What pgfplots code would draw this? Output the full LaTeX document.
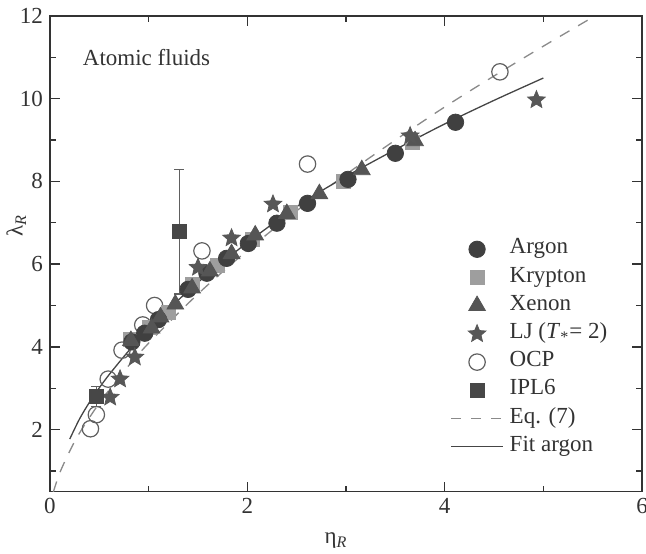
\documentclass[border=0pt]{standalone}
\usepackage{fontspec}
\setmainfont{Liberation Serif}
\usepackage{pgfplots}
\pgfplotsset{compat=1.18}
\usetikzlibrary{plotmarks}

\pgfdeclareplotmark{fstar}{%
 \pgfpathmoveto{\pgfpointpolar{90}{\pgfplotmarksize}}%
 \pgfpathlineto{\pgfpointpolar{126}{0.45\pgfplotmarksize}}%
 \pgfpathlineto{\pgfpointpolar{162}{\pgfplotmarksize}}%
 \pgfpathlineto{\pgfpointpolar{198}{0.45\pgfplotmarksize}}%
 \pgfpathlineto{\pgfpointpolar{234}{\pgfplotmarksize}}%
 \pgfpathlineto{\pgfpointpolar{270}{0.45\pgfplotmarksize}}%
 \pgfpathlineto{\pgfpointpolar{306}{\pgfplotmarksize}}%
 \pgfpathlineto{\pgfpointpolar{342}{0.45\pgfplotmarksize}}%
 \pgfpathlineto{\pgfpointpolar{18}{\pgfplotmarksize}}%
 \pgfpathlineto{\pgfpointpolar{54}{0.45\pgfplotmarksize}}%
 \pgfpathclose\pgfusepathqfillstroke}

\definecolor{cAr}{HTML}{404040}
\definecolor{cKr}{HTML}{9E9E9E}
\definecolor{cXe}{HTML}{555555}
\definecolor{cLJ}{HTML}{575757}
\definecolor{cOCP}{HTML}{606060}
\definecolor{cIPL}{HTML}{474747}
\definecolor{cEq}{HTML}{8A8A8A}
\definecolor{cFit}{HTML}{454545}
\definecolor{cAx}{HTML}{333333}

\begin{document}
\begin{tikzpicture}
\begin{axis}[
  name=ax,
  scale only axis, width=296pt, height=237.8pt,
  xmin=0, xmax=6, ymin=0.5, ymax=12,
  xtick={0,2,4,6}, ytick={2,4,6,8,10,12},
  minor xtick={1,3,5}, minor ytick={1,3,5,7,9,11},
  tick align=inside, major tick length=5pt, minor tick length=3pt,
  axis line style={line width=0.65pt, color=cAx},
  every tick/.style={line width=0.65pt, color=cAx},
  ticklabel style={font=\fontsize{11.5}{13}\selectfont, color=cAx},
  /pgf/number format/assume math mode=true,
  xlabel={η\textsubscript{\textit{R}}},
  ylabel={λ\textsubscript{\textit{R}}},
  label style={font=\fontsize{11.5}{13}\selectfont, color=cAx},
  xlabel style={at={(axis description cs:0.483,-0.103)}, anchor=center},
  ylabel style={at={(axis description cs:-0.057,0.56)}, anchor=center},
  legend style={at={(axis description cs:0.6757,0.540)}, anchor=north west,
    draw=none, fill=none, inner sep=0pt, row sep=0pt, column sep=0pt,
    font=\fontsize{11.5}{13}\selectfont, text=cAx,
    nodes={inner xsep=3pt, inner ysep=0pt, text height=9.35pt, text depth=4.75pt}},
  legend cell align=left,
  legend image code/.code={\draw[mark repeat=2,mark phase=2,#1] plot coordinates {(0pt,0pt) (13pt,0pt) (26pt,0pt)};},
]
% legend entries in reference order
\addlegendimage{only marks, mark=*, mark size=4.1pt, draw=cAr, fill=cAr}
\addlegendentry{Argon}
\addlegendimage{only marks, mark=square*, mark size=3.5pt, draw=cKr, fill=cKr}
\addlegendentry{Krypton}
\addlegendimage{only marks, mark=triangle*, mark size=4.8pt, draw=cXe, fill=cXe}
\addlegendentry{Xenon}
\addlegendimage{only marks, mark=fstar, mark size=4.6pt, draw=cLJ, fill=cLJ}
\addlegendentry{LJ (\textit{T}\textsubscript{*}= 2)}
\addlegendimage{only marks, mark=o, mark size=4.1pt, draw=cOCP, line width=0.6pt}
\addlegendentry{OCP}
\addlegendimage{only marks, mark=square*, mark size=3.5pt, draw=cIPL, fill=cIPL}
\addlegendentry{IPL6}
\addlegendimage{cEq, line width=0.65pt, dash pattern=on 5pt off 5pt}
\addlegendentry{Eq. (7)}
\addlegendimage{cFit, line width=0.65pt}
\addlegendentry{Fit argon}

% OCP
\addplot[forget plot, only marks, mark=o, mark size=4.1pt, draw=cOCP, line width=0.6pt] coordinates {
(0.41,2.02) (0.47,2.36) (0.59,3.22) (0.73,3.92) (0.94,4.53) (1.06,5.0) (1.54,6.32) (2.61,8.42) (4.56,10.65)};
% Krypton
\addplot[forget plot, only marks, mark=square*, mark size=3.5pt, draw=cKr, fill=cKr] coordinates {
(0.81,4.18) (1.01,4.48) (1.20,4.83) (1.44,5.5) (1.70,5.98) (2.05,6.6) (2.44,7.25) (2.97,8.01) (3.67,8.95)};
% Argon
\addplot[forget plot, only marks, mark=*, mark size=4.1pt, draw=cAr, fill=cAr] coordinates {
(0.83,4.12) (0.96,4.33) (1.10,4.66) (1.40,5.39) (1.59,5.78) (1.79,6.14) (2.01,6.50) (2.30,6.99) (2.61,7.47) (3.02,8.05) (3.50,8.68) (4.11,9.43)};
% Xenon
\addplot[forget plot, only marks, mark=triangle*, mark size=4.8pt, draw=cXe, fill=cXe] coordinates {
(0.82,4.15) (1.03,4.45) (1.12,4.72) (1.27,5.03) (1.44,5.42) (1.62,5.83) (1.84,6.25) (2.08,6.7) (2.40,7.22) (2.73,7.70) (3.16,8.28) (3.70,8.98)};
% LJ
\addplot[forget plot, only marks, mark=fstar, mark size=4.6pt, draw=cLJ, fill=cLJ] coordinates {
(0.61,2.78) (0.71,3.22) (0.86,3.75) (1.50,5.92) (1.84,6.63) (2.26,7.45) (3.65,9.1) (4.93,9.97)};
% IPL6
\addplot[forget plot, only marks, mark=square*, mark size=3.5pt, draw=cIPL, fill=cIPL,
  error bars/.cd, y dir=both, y explicit,
  error bar style={line width=0.6pt, color=cOCP},
  error mark options={rotate=90, mark size=2.5pt, line width=0.6pt, color=cOCP}] coordinates {
(0.47,2.8) +- (0,0.25)
(1.31,6.78) +- (0,1.5)};
% Eq. (7)
\addplot[forget plot, smooth, cEq, line width=0.65pt, dash pattern=on 5.5pt off 5pt] coordinates {
(0.036,0.5) (0.04,0.54) (0.1,0.96) (0.2,1.48) (0.3,1.92) (0.5,2.64) (0.75,3.41) (1.0,4.09) (1.5,5.28) (2.0,6.33) (2.5,7.29) (3.0,8.17) (3.5,9.0) (4.0,9.8) (4.5,10.55) (5.0,11.27) (5.5,11.97) (5.6,12.11)};
% Fit argon
\addplot[forget plot, smooth, cFit, line width=0.65pt] coordinates {
(0.2,1.77) (0.3,2.26) (0.4,2.66) (0.5,3.01) (0.6,3.33) (0.8,3.91) (1.0,4.43) (1.25,5.02) (1.5,5.56) (1.75,6.05) (2.0,6.52) (2.3,7.05) (2.6,7.55) (3.0,8.12) (3.5,8.77) (4.0,9.39) (4.5,9.96) (5.0,10.5)};

\node[anchor=west, inner sep=0pt, font=\fontsize{11.5}{13}\selectfont, text=cAx] at (axis cs:0.33,11.0) {Atomic fluids};
\end{axis}
\pgfresetboundingbox
\path[use as bounding box] ([xshift=-25pt,yshift=-30.7pt]ax.south west) rectangle ([xshift=2pt,yshift=8pt]ax.north east);
\end{tikzpicture}
\end{document}
